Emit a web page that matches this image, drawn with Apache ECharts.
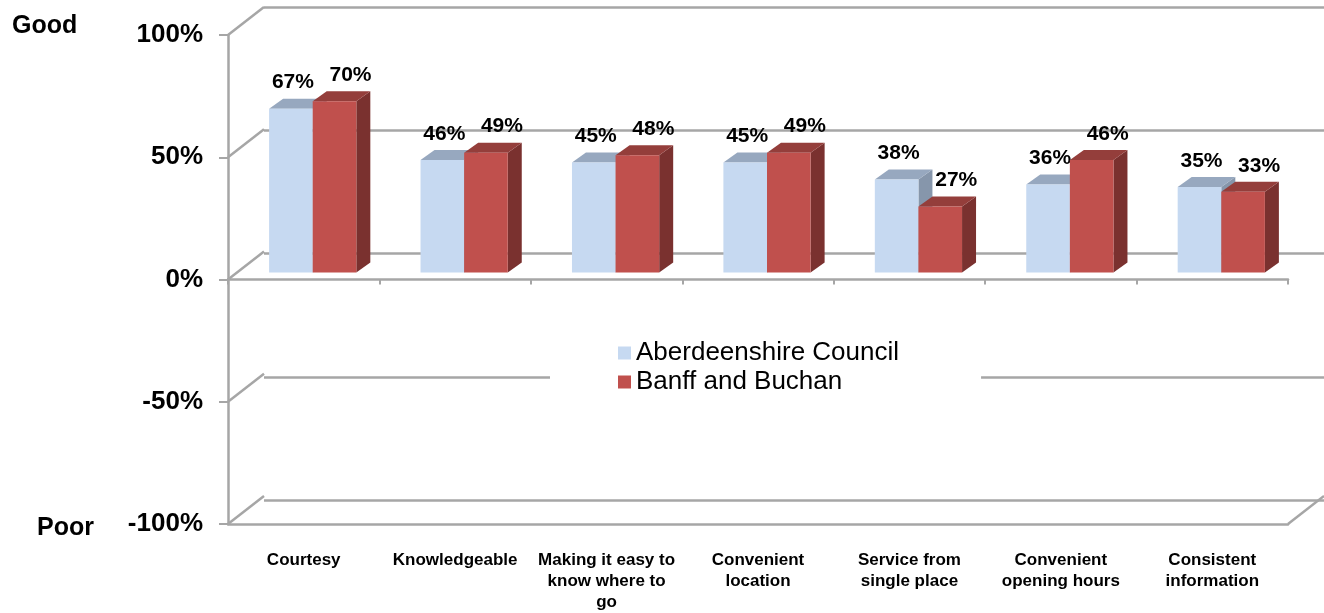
<!DOCTYPE html>
<html>
<head>
<meta charset="utf-8">
<script src="https://cdn.jsdelivr.net/npm/echarts@6/dist/echarts.min.js"></script>
<style>
  html, body { margin: 0; padding: 0; background: #fff; }
  #chart { width: 1324px; height: 613px; }
</style>
</head>
<body>
<div id="chart"></div>
<script>
// data
const categories = ['Courtesy', 'Knowledgeable', 'Making it easy to\nknow where to\ngo', 'Convenient\nlocation', 'Service from\nsingle place', 'Convenient\nopening hours', 'Consistent\ninformation']
const aberdeenshire = [67, 46, 45, 45, 38, 36, 35]
const banffBuchan = [70, 49, 48, 49, 27, 46, 33]
const yTicks = [-100, -50, 0, 50, 100]

const GRID = '#A6A6A6'
const BACK = { dx: 36, dy: -28 }   // depth of the back wall
const PLANE = { dx: 9, dy: -7 }    // where the bars stand
const BOX = { dx: 14, dy: -10 }    // bar depth

const styles = [
  { front: '#C6D9F1', top: '#97A8BF', side: '#8696AB', labelDx: 2 },
  { front: '#C0504D', top: '#943E3B', side: '#7A312F', labelDx: 16 },
]

function barRender(seriesIdx) {
  const st = styles[seriesIdx]
  return function (params, api) {
    const idx = api.value(0)
    const v = api.value(1)
    const band = api.size([1, 0])[0]
    const w = band * 0.288
    const c = api.coord([idx, v])
    const b = api.coord([idx, 0])
    const x0 = c[0] + PLANE.dx + (seriesIdx === 0 ? -w : 0)
    const x1 = x0 + w
    const yt = c[1] + PLANE.dy
    const yb = b[1] + PLANE.dy
    return {
      type: 'group',
      children: [
        { type: 'polygon', shape: { points: [[x1, yt], [x1 + BOX.dx, yt + BOX.dy], [x1 + BOX.dx, yb + BOX.dy], [x1, yb]] }, style: { fill: st.side } },
        { type: 'polygon', shape: { points: [[x0, yt], [x0 + BOX.dx, yt + BOX.dy], [x1 + BOX.dx, yt + BOX.dy], [x1, yt]] }, style: { fill: st.top } },
        { type: 'rect', shape: { x: x0, y: yt, width: w, height: yb - yt }, style: { fill: st.front } },
        { type: 'text', x: (x0 + x1) / 2 + st.labelDx, y: yt + BOX.dy - 16,
          style: { text: v + '%', fill: '#000', font: 'bold 21px "Liberation Sans", Arial, sans-serif', align: 'center', verticalAlign: 'middle' } },
      ],
    }
  }
}

// diagonal lines from front edge to back wall
function diagRender(params, api) {
  const cs = params.coordSys
  const v = api.value(0)
  const side = api.value(1)
  const y = api.coord([0, v])[1]
  const x = side ? cs.x + cs.width : cs.x
  return { type: 'line', shape: { x1: x, y1: y, x2: x + BACK.dx, y2: y + BACK.dy }, style: { stroke: GRID, lineWidth: 2.5 } }
}

const diagData = yTicks.map(t => [t, 0]).concat([[-100, 1]])

const option = {
  animation: false,
  grid: [
    { left: 228, top: 35, width: 1060, height: 493 },
    { left: 228 + BACK.dx, top: 35 + BACK.dy, width: 1060, height: 493 },
  ],
  legend: {
    orient: 'vertical',
    left: 550,
    top: 330,
    padding: [10, 82, 10, 68],
    backgroundColor: '#fff',
    icon: 'rect',
    itemWidth: 13,
    itemHeight: 13,
    itemGap: 3,
    textStyle: { fontSize: 26, color: '#000', fontFamily: '"Liberation Sans", Arial, sans-serif' },
    data: [
      { name: 'Aberdeenshire Council', itemStyle: { color: styles[0].front } },
      { name: 'Banff and Buchan', itemStyle: { color: styles[1].front } },
    ],
  },
  xAxis: [
    { type: 'category', gridIndex: 0, data: categories, boundaryGap: true,
      axisLine: { onZero: true, lineStyle: { color: GRID, width: 2.5 } },
      axisTick: { show: true, length: 5, lineStyle: { color: GRID, width: 2 } },
      axisLabel: { show: false } },
    { type: 'category', gridIndex: 0, data: categories, position: 'bottom', boundaryGap: true,
      axisLine: { onZero: false, lineStyle: { color: GRID, width: 2.5 } },
      axisTick: { show: false },
      axisLabel: { margin: 26, interval: 0, color: '#000', fontSize: 17, fontWeight: 'bold', lineHeight: 21,
        fontFamily: '"Liberation Sans Narrow", "Arial Narrow", "Liberation Sans", sans-serif' } },
    { type: 'category', gridIndex: 1, data: categories, show: false },
  ],
  yAxis: [
    { type: 'value', gridIndex: 0, min: -100, max: 100, interval: 50,
      axisLine: { show: true, lineStyle: { color: GRID, width: 2.5 } },
      axisTick: { show: true, length: 9, lineStyle: { color: GRID, width: 2 } },
      splitLine: { show: false },
      axisLabel: { formatter: '{value}%', margin: 25, color: '#000', fontSize: 26, fontWeight: 'bold',
        fontFamily: '"Liberation Sans", Arial, sans-serif' } },
    { type: 'value', gridIndex: 1, min: -100, max: 100, interval: 50,
      axisLine: { show: false }, axisTick: { show: false }, axisLabel: { show: false },
      splitLine: { show: true, lineStyle: { color: GRID, width: 2.5 } } },
  ],
  graphic: [
    { type: 'text', left: 12, top: 14, style: { text: 'Good', font: 'bold 25px "Liberation Sans", Arial, sans-serif', fill: '#000' } },
    { type: 'text', left: 37, top: 516, style: { text: 'Poor', font: 'bold 25px "Liberation Sans", Arial, sans-serif', fill: '#000' } },
  ],
  series: [
    { type: 'custom', name: 'diag', xAxisIndex: 0, yAxisIndex: 0, renderItem: diagRender,
      encode: { y: 0 }, data: diagData, silent: true, z: 1 },
    { type: 'custom', name: 'Aberdeenshire Council', xAxisIndex: 0, yAxisIndex: 0, renderItem: barRender(0),
      encode: { x: 0, y: 1 }, data: aberdeenshire.map((v, i) => [i, v]), itemStyle: { color: styles[0].front }, z: 3 },
    { type: 'custom', name: 'Banff and Buchan', xAxisIndex: 0, yAxisIndex: 0, renderItem: barRender(1),
      encode: { x: 0, y: 1 }, data: banffBuchan.map((v, i) => [i, v]), itemStyle: { color: styles[1].front }, z: 4 },
  ],
}

const chart = echarts.init(document.getElementById('chart'))
chart.setOption(option)
</script>
</body>
</html>
